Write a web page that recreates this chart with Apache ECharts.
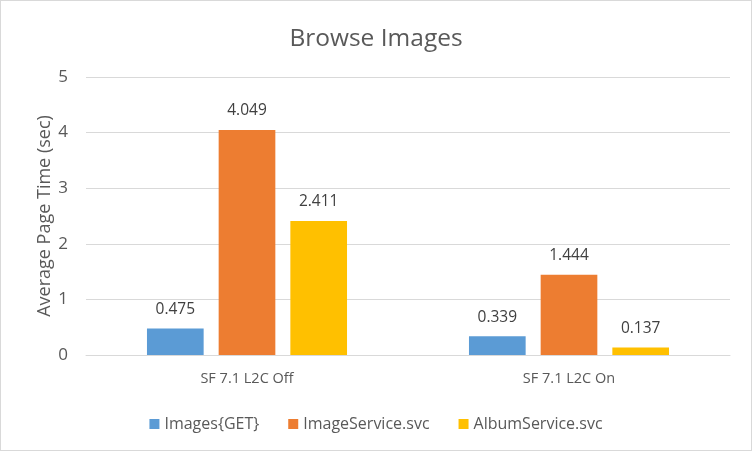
<!DOCTYPE html>
<html><head><meta charset="utf-8">
<script src="https://cdn.jsdelivr.net/npm/echarts@6/dist/echarts.min.js"></script>
<style>html,body{margin:0;padding:0;background:#fff}#c{width:750px;height:449px;border:1px solid #d9d9d9}</style>
</head><body><div id="c"></div>
<script>
const categories = ["SF 7.1 L2C Off", "SF 7.1 L2C On"];
const seriesNames = ["Images{GET}", "ImageService.svc", "AlbumService.svc"];
const imagesGet = [0.475, 0.339];
const imageService = [4.049, 1.444];
const albumService = [2.411, 0.137];
const yTicks = [0, 1, 2, 3, 4, 5];
const colors = ["#5B9BD5", "#ED7D31", "#FFC000"];
const font = "'Open Sans', 'Liberation Sans', sans-serif";
const chart = echarts.init(document.getElementById('c'));
const lbl = {show:true, position:'top', distance:11, color:'#404040', fontSize:15.5, fontFamily:font, formatter: p => p.value.toFixed(3)};
const mk = (name, data, i) => ({name, type:'bar', data, barWidth:'17.6%', barGap:'26.5%', itemStyle:{color:colors[i]}, label:lbl});
chart.setOption({
  animation:false,
  title:{text:'Browse Images', left:'center', top:21, textStyle:{fontFamily:font, fontSize:24.5, fontWeight:'normal', color:'#595959'}},
  legend:{top:410, left:'center', itemWidth:10, itemHeight:10, itemGap:29, icon:'rect', textStyle:{fontFamily:font, fontSize:16, color:'#595959'}, data:seriesNames},
  grid:{left:85, right:21, top:76, bottom:95},
  xAxis:{type:'category', data:categories, axisLine:{lineStyle:{color:'#d9d9d9'}}, axisTick:{show:false}, axisLabel:{color:'#595959', fontSize:14.5, fontFamily:font, margin:16}},
  yAxis:{type:'value', min:yTicks[0], max:yTicks[yTicks.length-1], interval:1, name:'Average Page Time (sec)', nameLocation:'middle', nameGap:32, nameMoveOverlap:false, nameTextStyle:{color:'#595959', fontSize:18, fontFamily:font}, axisLabel:{color:'#595959', fontSize:17, fontFamily:font, margin:18}, splitLine:{lineStyle:{color:'#d9d9d9'}}},
  series:[mk(seriesNames[0], imagesGet, 0), mk(seriesNames[1], imageService, 1), mk(seriesNames[2], albumService, 2)]
});
</script></body></html>
